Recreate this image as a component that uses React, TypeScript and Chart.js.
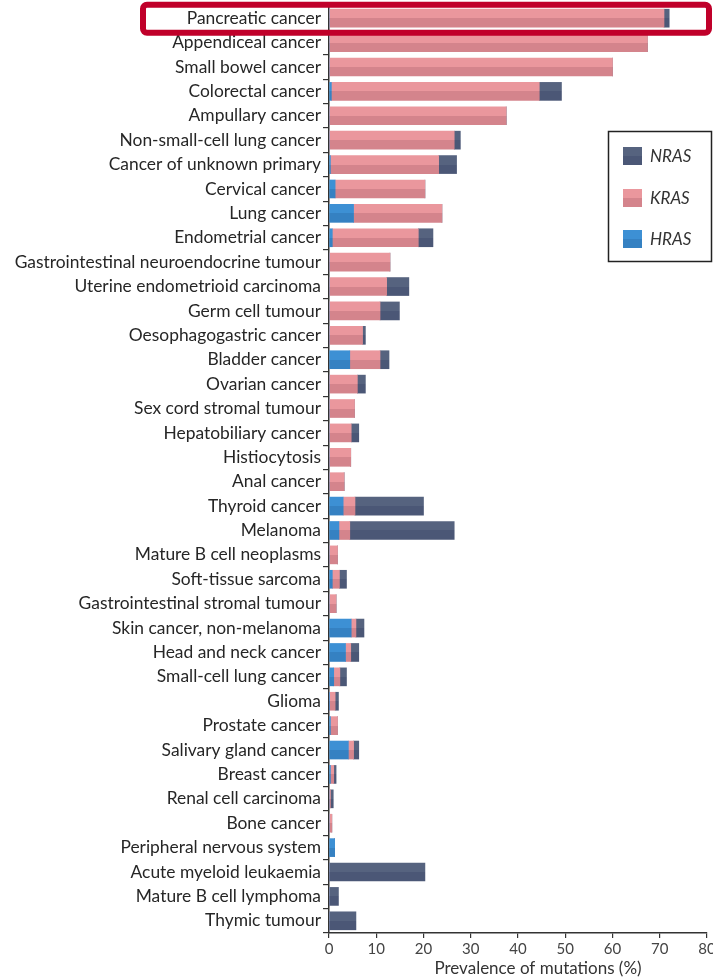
import React, { useEffect, useRef } from "react";
import { Chart, registerables } from "chart.js";

Chart.register(...registerables);

const categories = [
  "Pancreatic cancer",
  "Appendiceal cancer",
  "Small bowel cancer",
  "Colorectal cancer",
  "Ampullary cancer",
  "Non-small-cell lung cancer",
  "Cancer of unknown primary",
  "Cervical cancer",
  "Lung cancer",
  "Endometrial cancer",
  "Gastrointestinal neuroendocrine tumour",
  "Uterine endometrioid carcinoma",
  "Germ cell tumour",
  "Oesophagogastric cancer",
  "Bladder cancer",
  "Ovarian cancer",
  "Sex cord stromal tumour",
  "Hepatobiliary cancer",
  "Histiocytosis",
  "Anal cancer",
  "Thyroid cancer",
  "Melanoma",
  "Mature B cell neoplasms",
  "Soft-tissue sarcoma",
  "Gastrointestinal stromal tumour",
  "Skin cancer, non-melanoma",
  "Head and neck cancer",
  "Small-cell lung cancer",
  "Glioma",
  "Prostate cancer",
  "Salivary gland cancer",
  "Breast cancer",
  "Renal cell carcinoma",
  "Bone cancer",
  "Peripheral nervous system",
  "Acute myeloid leukaemia",
  "Mature B cell lymphoma",
  "Thymic tumour",
];

const hrasValues = [
  0, 0, 0, 0.5, 0, 0, 0.3, 1.3, 5.2, 0.7, 0, 0, 0, 0, 4.4, 0, 0, 0, 0, 0, 3.0, 2.1,
  0, 0.7, 0, 4.7, 3.5, 1.0, 0.1, 0.3, 4.1, 0.3, 0, 0, 1.2, 0, 0, 0,
];
const krasValues = [
  70.9, 67.4, 60.0, 44.0, 37.5, 26.5, 22.9, 19.0, 18.7, 18.2, 12.9, 12.2, 10.8, 7.1,
  6.4, 6.0, 5.4, 4.7, 4.6, 3.2, 2.5, 2.3, 1.8, 1.5, 1.5, 1.0, 1.1, 1.3, 1.2, 1.5, 1.1,
  0.7, 0.3, 0.6, 0, 0, 0, 0,
];
const nrasValues = [
  1.1, 0, 0, 4.7, 0, 1.3, 3.8, 0, 0, 3.1, 0, 4.7, 4.1, 0.6, 1.9, 1.7, 0, 1.6, 0, 0,
  14.5, 22.1, 0, 1.5, 0, 1.7, 1.7, 1.4, 0.7, 0, 1.1, 0.5, 0.6, 0, 0, 20.3, 2.0, 5.7,
];

const xTicks = [0, 10, 20, 30, 40, 50, 60, 70, 80];
const legendItems = ["NRAS", "KRAS", "HRAS"];
const xTitle = "Prevalence of mutations (%)";

const COLORS: Record<string, [string, string]> = {
  HRAS: ["#3d90d4", "#3581c2"],
  KRAS: ["#ea979d", "#d4848c"],
  NRAS: ["#56637f", "#4b5776"],
};

const BAR_T = 18;
const FONT = "Lato, 'Open Sans', sans-serif";

function twoTone(name: string) {
  const [top, bottom] = COLORS[name];
  return (ctx: any) => {
    const chart = ctx.chart;
    const ys = chart.scales && chart.scales.y;
    if (!ys || ctx.dataIndex === undefined || !chart.chartArea) return top;
    const yc = ys.getPixelForValue(ctx.dataIndex);
    const h = BAR_T / 2;
    const g = chart.ctx.createLinearGradient(0, yc - h, 0, yc + h);
    g.addColorStop(0, top);
    g.addColorStop(0.5, top);
    g.addColorStop(0.5, bottom);
    g.addColorStop(1, bottom);
    return g;
  };
}

const overlayPlugin = {
  id: "overlay",
  afterDraw(chart: any) {
    const ctx = chart.ctx;
    const ys = chart.scales.y;
    ctx.save();

    // x axis title
    ctx.fillStyle = "#333";
    ctx.font = `17px ${FONT}`;
    ctx.textAlign = "center";
    ctx.textBaseline = "middle";
    ctx.fillText(xTitle, 538, 969);

    // legend box
    ctx.strokeStyle = "#222";
    ctx.lineWidth = 1.5;
    ctx.strokeRect(608.5, 131.5, 103, 130);
    const rowY = [147, 189, 230];
    legendItems.forEach((name, i) => {
      const [top, bottom] = COLORS[name];
      const y = rowY[i];
      ctx.fillStyle = top;
      ctx.fillRect(623, y, 19, 9);
      ctx.fillStyle = bottom;
      ctx.fillRect(623, y + 9, 19, 9);
      ctx.fillStyle = "#333";
      ctx.font = `italic 17px ${FONT}`;
      ctx.textAlign = "left";
      ctx.textBaseline = "middle";
      ctx.fillText(name, 650, y + 9.5);
    });

    // highlight box around first category
    const yc0 = ys.getPixelForValue(0);
    ctx.strokeStyle = "#c0002a";
    ctx.lineWidth = 6;
    ctx.beginPath();
    if ((ctx as any).roundRect) {
      ctx.roundRect(143, yc0 - 13.5, 566, 28, 4);
    } else {
      ctx.rect(143, yc0 - 13.5, 566, 28);
    }
    ctx.stroke();
    ctx.restore();
  },
};

export default function App() {
  const ref = useRef<HTMLCanvasElement | null>(null);

  useEffect(() => {
    if (!ref.current) return;
    const chart = new Chart(ref.current, {
      type: "bar",
      data: {
        labels: categories,
        datasets: [
          { label: "HRAS", data: hrasValues, backgroundColor: twoTone("HRAS") as any, barThickness: BAR_T },
          { label: "KRAS", data: krasValues, backgroundColor: twoTone("KRAS") as any, barThickness: BAR_T },
          { label: "NRAS", data: nrasValues, backgroundColor: twoTone("NRAS") as any, barThickness: BAR_T },
        ],
      },
      options: {
        indexAxis: "y",
        responsive: false,
        animation: false,
        layout: { padding: { top: 6, right: 6, left: 0, bottom: 0 } },
        plugins: {
          legend: { display: false },
          tooltip: { enabled: false },
          title: { display: false },
        },
        scales: {
          x: {
            stacked: true,
            min: 0,
            max: 80,
            afterBuildTicks: (scale: any) => {
              scale.ticks = xTicks.map((v) => ({ value: v }));
            },
            afterFit: (scale: any) => {
              scale.height = 47;
              scale.paddingRight = 0;
              scale.paddingLeft = 0;
            },
            grid: {
              display: true,
              drawOnChartArea: false,
              drawTicks: true,
              tickLength: 5,
              color: "#333",
              lineWidth: 1.2,
            },
            border: { display: true, color: "#333", width: 1.5 },
            ticks: {
              color: "#444",
              font: { family: FONT, size: 15 },
              padding: 2,
            },
          },
          y: {
            stacked: true,
            afterFit: (scale: any) => {
              scale.width = 329;
              scale.paddingTop = 0;
              scale.paddingBottom = 0;
            },
            grid: {
              display: true,
              drawOnChartArea: false,
              drawTicks: true,
              tickLength: 6,
              color: "#333",
              lineWidth: 1.2,
              offset: true,
            },
            border: { display: true, color: "#333", width: 1.5 },
            ticks: {
              color: "#262626",
              font: { family: FONT, size: 17.4 },
              padding: 2,
              autoSkip: false,
            },
          },
        },
      },
      plugins: [overlayPlugin],
    });
    return () => chart.destroy();
  }, []);

  return (
    <div style={{ position: "fixed", left: 0, top: 0, width: 713, height: 980, background: "#fff" }}>
      <canvas ref={ref} width={713} height={980} style={{ width: 713, height: 980, display: "block" }} />
    </div>
  );
}
